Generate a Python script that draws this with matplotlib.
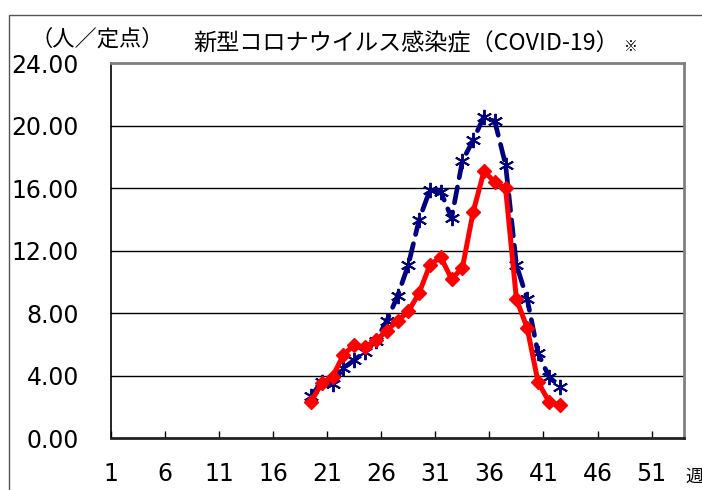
import matplotlib
matplotlib.use("Agg")
import matplotlib.pyplot as plt
from matplotlib.patches import Rectangle

# weekly values (per sentinel site), weeks 19-42
weeks = list(range(19, 43))
this_year = [2.34, 3.52, 3.95, 5.34, 5.98, 5.83, 6.26, 6.88, 7.52, 8.12, 9.3, 11.1,
             11.6, 10.2, 10.9, 14.5, 17.1, 16.4, 16.0, 8.9, 7.05, 3.6, 2.35, 2.1]
last_year = [2.7, 3.6, 3.5, 4.5, 5.0, 5.55, 6.25, 7.5, 9.1, 11.1, 14.0, 15.9,
             15.8, 14.1, 17.75, 19.1, 20.6, 20.3, 17.5, 11.1, 8.9, 5.45, 3.95, 3.3]

xtick_labels = ["1", "6", "11", "16", "21", "26", "31", "36", "41", "46", "51"]
yticks = [0, 4, 8, 12, 16, 20, 24]

cjk = ["Noto Sans CJK JP", "DejaVu Sans"]

fig = plt.figure(figsize=(7.02, 4.90), dpi=100)
ax = fig.add_axes([111 / 702, 1 - 438.2 / 490, 573 / 702, 374.7 / 490])

# categories sit between tick marks, like the spreadsheet chart
xpos = [w - 0.5 for w in weeks]

ax.plot(xpos, last_year, color="#000080", lw=3.4, linestyle=(0, (3.4, 2.0)),
        dash_capstyle="round", marker=(6, 2, 0), markersize=11, mew=1.4,
        mec="#000080", zorder=3)
ax.plot(xpos, this_year, color="#ff0000", lw=3.6, marker="D", markersize=7.5,
        mec="#ff0000", zorder=4)

ax.set_xlim(0, 53)
ax.set_ylim(0, 24)

ax.set_xticks(range(0, 51, 5))
ax.set_xticklabels(xtick_labels)
ax.set_yticks(yticks)
ax.set_yticklabels([f"{v:.2f}" for v in yticks])

ax.tick_params(axis="x", direction="in", length=5, width=1, pad=17,
               labelsize=17, colors="black")
ax.tick_params(axis="y", length=0, pad=23, labelsize=17)

for v in yticks[1:-1]:
    ax.axhline(v, color="black", lw=1, zorder=1)

ax.spines["top"].set_color("#808080")
ax.spines["right"].set_color("#808080")
ax.spines["top"].set_linewidth(2)
ax.spines["right"].set_linewidth(2)
ax.spines["left"].set_color("black")
ax.spines["bottom"].set_color("#222222")
ax.spines["bottom"].set_linewidth(2)
ax.spines["left"].set_linewidth(1.2)

# texts
fig.text(31 / 702, 1 - 39 / 490, "（人／定点）", family=cjk, fontsize=16,
         ha="left", va="center")
fig.text(193 / 702, 1 - 44 / 490, "新型コロナウイルス感染症（COVID-19）",
         family=cjk, fontsize=16.7, ha="left", va="center")
fig.text(624 / 702, 1 - 47 / 490, "※", family=cjk, fontsize=10,
         ha="left", va="center")
fig.text(685 / 702, 1 - 477 / 490, "週", family=cjk, fontsize=13,
         ha="left", va="center")

# outer chart frame
fig.patches.append(Rectangle((9 / 702, -0.1), 1.2, 1.1 - 15 / 490,
                             transform=fig.transFigure, fill=False,
                             edgecolor="#555555", lw=1))

fig.savefig("out.png", dpi=100)
